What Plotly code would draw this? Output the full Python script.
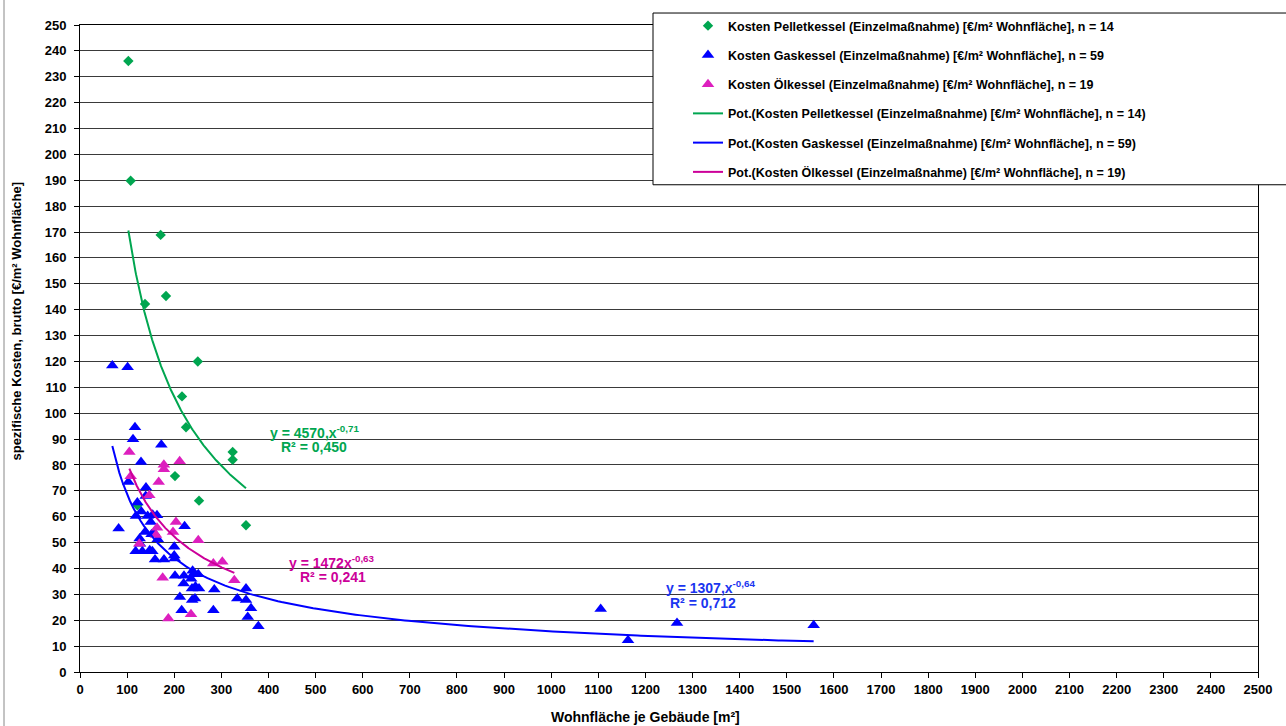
import numpy as np
import plotly.graph_objects as go

# ---------------- data ----------------
pellet_x = [102.6, 107.5, 171.2, 182.5, 138, 250, 216.5, 225, 324, 324, 201.6, 252.6, 352.3, 121.7]
pellet_y = [236.1, 189.8, 168.9, 145.3, 142.2, 120, 106.5, 94.6, 85, 82, 75.7, 66.2, 56.7, 64.4]

gas_x = [68.6, 101, 116.7, 112.5, 172.6, 129.5, 102.6, 140, 139.4, 121.7, 118.8, 143.6, 154.2, 163.4,
         82, 138, 157, 222, 126.6, 165, 118.1, 132.3, 153.5, 159.2, 178.3, 200, 201, 239, 201.6,
         220, 237.7, 212, 238, 215.8, 251, 240.5, 252.6, 285, 244, 283, 352.3, 333.8, 352.3, 363,
         356, 378.5, 220.7, 127.3, 152, 130, 148, 200, 236, 150, 245, 1105, 1163, 1267, 1557]
gas_y = [118.4, 117.8, 94.6, 89.9, 87.8, 81.1, 73.4, 71.3, 68, 65.5, 60.3, 60.3, 60.8, 60.6,
         55.4, 54.1, 53.9, 56.3, 51.6, 51.3, 46.7, 46.7, 46.7, 43.5, 43.5, 48.4, 43.9, 39.1, 37.2,
         34.2, 32.3, 29, 27.8, 23.9, 37.8, 37.8, 32.3, 31.9, 28.4, 23.9, 32.3, 28.4, 27.8, 24.6,
         21.3, 17.7, 37.2, 49.6, 53.2, 62, 47, 45, 36, 58, 33, 24.3, 12.3, 18.9, 18.1]

oel_x = [104.7, 178, 178, 211.5, 107.5, 167, 147, 203.7, 163.4, 197.4, 161.3, 126, 175.4, 187.5,
         235.5, 251, 283, 302, 327.5]
oel_y = [85, 80.1, 78.3, 81.4, 75.6, 73.4, 68.3, 58, 55.7, 54.1, 52.9, 49.6, 36.4, 20.7,
         22.3, 50.9, 41.9, 42.6, 35.5]

# power trendlines as printed on the chart: y = a * x^b
pellet_fit = (4570, -0.71)
gas_fit = (1307, -0.64)
oel_fit = (1472, -0.63)

x_ticks = list(range(0, 2501, 100))
y_ticks = list(range(0, 251, 10))

names = [
    "Kosten Pelletkessel (Einzelmaßnahme) [€/m² Wohnfläche], n = 14",
    "Kosten Gaskessel (Einzelmaßnahme) [€/m² Wohnfläche], n = 59",
    "Kosten Ölkessel (Einzelmaßnahme) [€/m² Wohnfläche], n = 19",
    "Pot.(Kosten Pelletkessel (Einzelmaßnahme) [€/m² Wohnfläche], n = 14)",
    "Pot.(Kosten Gaskessel (Einzelmaßnahme) [€/m² Wohnfläche], n = 59)",
    "Pot.(Kosten Ölkessel (Einzelmaßnahme) [€/m² Wohnfläche], n = 19)",
]

GREEN = "#00A650"
BLUE = "#0000FF"
PINK = "#DD1FBE"
PINK_LINE = "#CC0099"
EQ_BLUE = "#1A35F0"
FONT = "Liberation Sans, Arial, sans-serif"


def trend(xs, fit):
    a, b = fit
    xx = np.linspace(min(xs), max(xs), 200)
    return xx, a * xx ** b


fig = go.Figure()
fig.add_trace(go.Scatter(x=pellet_x, y=pellet_y, mode="markers", name=names[0], legendgroup="g1",
                         marker=dict(symbol="diamond", size=8, color=GREEN)))
fig.add_trace(go.Scatter(x=gas_x, y=gas_y, mode="markers", name=names[1], legendgroup="g2",
                         marker=dict(symbol="triangle-up", size=11, color=BLUE)))
fig.add_trace(go.Scatter(x=oel_x, y=oel_y, mode="markers", name=names[2], legendgroup="g3",
                         marker=dict(symbol="triangle-up", size=11, color=PINK)))
for i, (xs, fit, col) in enumerate([(pellet_x, pellet_fit, GREEN), (gas_x, gas_fit, BLUE),
                                     (oel_x, oel_fit, PINK_LINE)]):
    tx, ty = trend(xs, fit)
    fig.add_trace(go.Scatter(x=tx, y=ty, mode="lines", name=names[3 + i], legendgroup="t%d" % i,
                             line=dict(color=col, width=2)))

# plot area pixel geometry
L, R, T, B = 80, 1258, 24, 672
W, H = 1286, 726


def px(xp):
    return (xp - L) / (R - L)


def py(yp):
    return (B - yp) / (B - T)


def f(size, color="black"):
    return dict(family=FONT, size=size, color=color, weight="bold")


fig.update_layout(
    width=W, height=H,
    margin=dict(l=L, r=W - R, t=T, b=H - B),
    paper_bgcolor="white", plot_bgcolor="white",
    font=f(12),
    showlegend=True,
    legend=dict(x=px(688), y=py(11), xanchor="left", yanchor="top",
                bgcolor="rgba(0,0,0,0)", borderwidth=0, tracegroupgap=10,
                font=f(12.5)),
    xaxis=dict(range=[0, 2500], tickvals=x_ticks, ticktext=[str(v) for v in x_ticks],
               showgrid=False, zeroline=False, showline=True, linecolor="black", linewidth=1,
               mirror=True, ticks="outside", ticklen=5, tickcolor="black",
               tickfont=f(13)),
    yaxis=dict(range=[0, 250], tickvals=y_ticks, ticktext=[str(v) for v in y_ticks],
               showgrid=True, gridcolor="#3a3a3a", gridwidth=1, zeroline=False,
               showline=True, linecolor="black", linewidth=1, mirror=True,
               ticks="outside", ticklen=5, tickcolor="black", ticklabelstandoff=5,
               tickfont=f(13)),
    shapes=[
        dict(type="rect", xref="paper", yref="paper", x0=px(653), x1=px(1292), y0=py(184), y1=py(12),
             fillcolor="white", line=dict(color="black", width=1), layer="above"),
        dict(type="line", xref="paper", yref="paper", x0=px(4), x1=px(4), y0=py(-5), y1=py(730),
             line=dict(color="#888888", width=1)),
    ],
    annotations=[
        dict(text="spezifische Kosten, brutto [€/m² Wohnfläche]", textangle=-90, xref="paper", yref="paper",
             x=px(17), y=py(321), showarrow=False, xanchor="center", yanchor="middle",
             font=f(13)),
        dict(text="Wohnfläche je Gebäude [m²]", xref="paper", yref="paper",
             x=px(645), y=py(717), showarrow=False, xanchor="center", yanchor="middle",
             font=f(14)),
        dict(text="y = 4570,x<sup>-0,71</sup>", x=497.7, y=92.6, showarrow=False,
             font=f(14, GREEN)),
        dict(text="R² = 0,450", x=496.6, y=86.9, showarrow=False,
             font=f(14, GREEN)),
        dict(text="y = 1472x<sup>-0,63</sup>", x=535, y=42.6, showarrow=False,
             font=f(14, PINK_LINE)),
        dict(text="R² = 0,241", x=536, y=36.8, showarrow=False,
             font=f(14, PINK_LINE)),
        dict(text="y = 1307,x<sup>-0,64</sup>", x=1339, y=32.8, showarrow=False,
             font=f(14, EQ_BLUE)),
        dict(text="R² = 0,712", x=1322, y=26.6, showarrow=False,
             font=f(14, EQ_BLUE)),
    ],
)

fig.write_html("out.html")
